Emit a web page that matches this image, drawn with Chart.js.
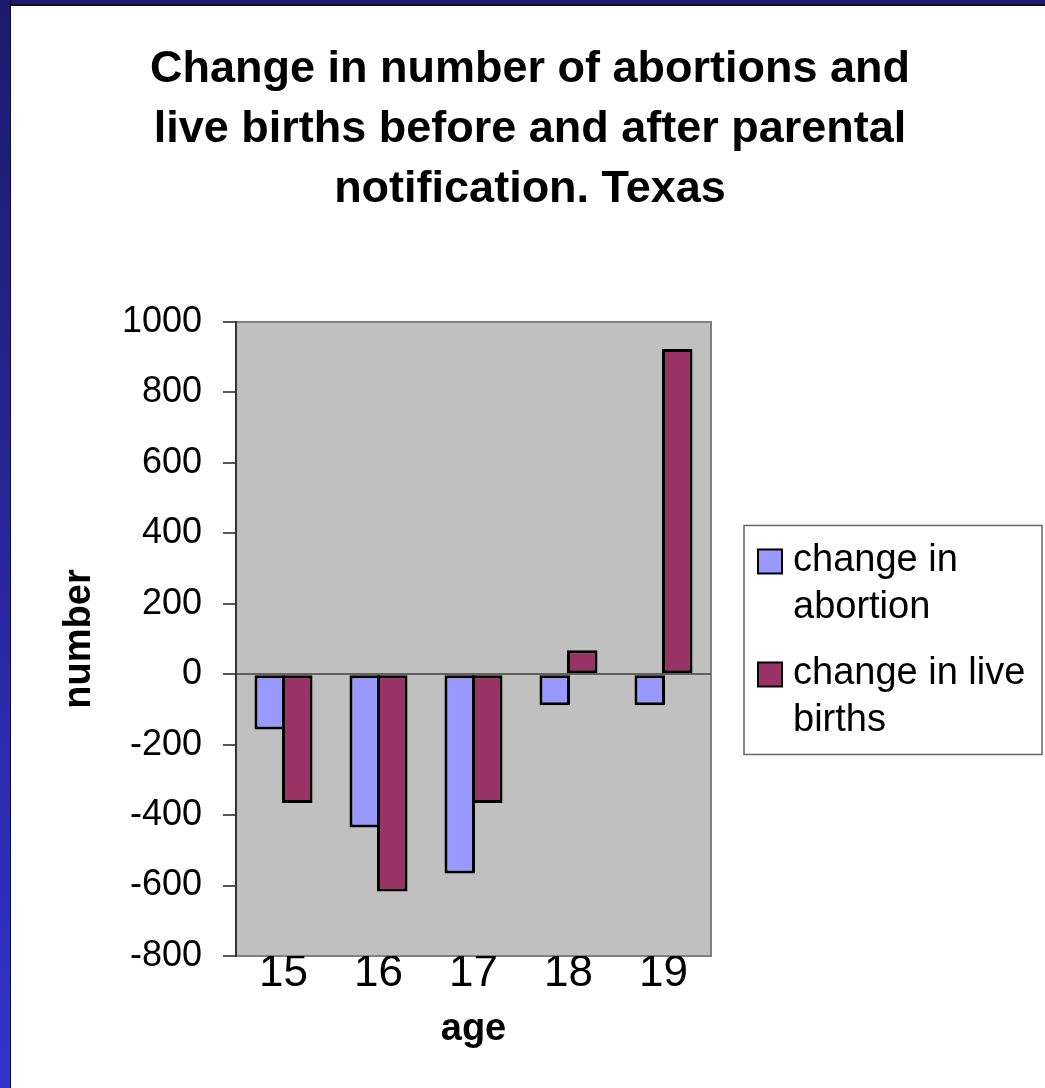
<!DOCTYPE html>
<html lang="en">
<head>
  <meta charset="UTF-8">
  <title>Change in abortions and live births, Texas</title>
  <script src="https://cdn.jsdelivr.net/npm/chart.js"></script>
  <style>
    html, body { margin: 0; padding: 0; background: #fff; }
    #wrap { position: relative; width: 1045px; height: 1088px; overflow: hidden; }
    #frameTop { position: absolute; left: 0; top: 0; width: 1045px; height: 4px;
      background: #1d1b6c; border-bottom: 2px solid #0b0b2a; z-index: 2; }
    #frameLeft { position: absolute; left: 0; top: 0; width: 10px; height: 1088px;
      background: linear-gradient(#1d1b6c, #3333cc); border-right: 1px solid #0d0d3a; z-index: 2; }
    canvas { position: absolute; left: 0; top: 0; }
  </style>
</head>
<body>

<div id="wrap">
  <div id="frameTop"></div>
  <div id="frameLeft"></div>
  <canvas id="changeChart" width="1045" height="1088"></canvas>
</div>

<script>
  const ages = ['15', '16', '17', '18', '19'];
  const abortionChange = [-157, -435, -566, -88, -88];
  const birthChange = [-366, -617, -366, 68, 923];
  const seriesNames = ['change in abortion', 'change in live births'];
  const titleLines = ['Change in number of abortions and', 'live births before and after parental', 'notification. Texas'];
  const yMin = -800, yMax = 1000, yStep = 200;

  const FONT = '"Liberation Sans", Arial, sans-serif';

  // grey plot area like the old spreadsheet charts
  const plotBackground = {
    id: 'plotBackground',
    beforeDraw(chart) {
      const { ctx, chartArea: a } = chart;
      ctx.save();
      ctx.fillStyle = '#c0c0c0';
      ctx.fillRect(a.left, a.top, a.width, a.height);
      ctx.strokeStyle = '#808080';
      ctx.lineWidth = 2;
      ctx.strokeRect(a.left, a.top, a.width, a.height);
      ctx.restore();
    }
  };

  function wrapText(ctx, text, maxWidth) {
    const words = text.split(' ');
    const lines = [];
    let line = '';
    words.forEach(w => {
      const test = line ? line + ' ' + w : w;
      if (line && ctx.measureText(test).width > maxWidth) {
        lines.push(line);
        line = w;
      } else {
        line = test;
      }
    });
    if (line) lines.push(line);
    return lines;
  }

  // legend on the right, with wrapped labels, taking its own layout space
  const legendBox = {
    position: 'right', weight: 0, fullSize: false, options: {},
    width: 0, height: 0, left: 0, top: 0, right: 0, bottom: 0,
    isHorizontal() { return false; },
    update(maxWidth, maxHeight) {
      this.width = 334;
      this.height = maxHeight;
    },
    draw() {
      const chart = this.chart;
      const ctx = chart.ctx;
      const a = chart.chartArea;
      const w = 298, h = 229;
      const left = a.right + 33;
      const top = (a.top + a.bottom) / 2 - h / 2 + 1;
      ctx.save();
      ctx.fillStyle = '#fff';
      ctx.fillRect(left, top, w, h);
      ctx.strokeStyle = '#666';
      ctx.lineWidth = 1.5;
      ctx.strokeRect(left, top, w, h);
      ctx.font = '38px ' + FONT;
      ctx.textBaseline = 'alphabetic';
      let y = top + 46;
      chart.data.datasets.forEach(ds => {
        const lines = wrapText(ctx, ds.label, 240);
        ctx.fillStyle = ds.backgroundColor;
        ctx.fillRect(left + 14, y - 22, 24, 24);
        ctx.strokeStyle = '#000';
        ctx.lineWidth = 2;
        ctx.strokeRect(left + 14, y - 22, 24, 24);
        ctx.fillStyle = '#000';
        lines.forEach((ln, i) => ctx.fillText(ln, left + 49, y + i * 47));
        y += lines.length * 47 + 19;
      });
      ctx.restore();
    }
  };

  const sideLegend = {
    id: 'sideLegend',
    beforeInit(chart) {
      legendBox.chart = chart;
      Chart.layouts.addBox(chart, legendBox);
    }
  };

  const ctx = document.getElementById('changeChart').getContext('2d');

  new Chart(ctx, {
    type: 'bar',
    data: {
      labels: ages,
      datasets: [
        {
          label: seriesNames[0],
          data: abortionChange,
          backgroundColor: '#9999ff',
          borderColor: '#000',
          borderWidth: 3,
          borderSkipped: false
        },
        {
          label: seriesNames[1],
          data: birthChange,
          backgroundColor: '#993366',
          borderColor: '#000',
          borderWidth: 3,
          borderSkipped: false
        }
      ]
    },
    options: {
      responsive: false,
      animation: false,
      // bars slightly wider than their slot so neighbours share one border
      categoryPercentage: 0.579,
      barPercentage: 1.11,
      layout: { padding: { left: 15, right: 0, top: 0, bottom: 0 } },
      plugins: {
        legend: { display: false },
        tooltip: { enabled: false },
        title: {
          display: true,
          text: titleLines,
          color: '#000',
          font: { family: FONT, size: 45, weight: 'bold', lineHeight: 1.333 },
          padding: { top: 40, bottom: 102 }
        }
      },
      scales: {
        x: {
          grid: { display: false, drawTicks: false },
          border: { display: false },
          ticks: { color: '#000', font: { family: FONT, size: 44, lineHeight: 1 }, padding: -4 },
          title: {
            display: true,
            text: 'age',
            color: '#000',
            font: { family: FONT, size: 38, weight: 'bold', lineHeight: 1.2 },
            padding: { top: 0, bottom: 36 }
          },
          afterFit(scale) { scale.height = 132; }
        },
        y: {
          min: yMin,
          max: yMax,
          ticks: {
            stepSize: yStep,
            color: '#000',
            font: { family: FONT, size: 36 },
            padding: 21,
            callback: v => String(v)
          },
          grid: {
            color: c => (c.tick && c.tick.value === 0) ? '#606060' : 'rgba(0,0,0,0)',
            lineWidth: 2,
            tickColor: '#222',
            tickWidth: 1.5,
            tickLength: 13
          },
          border: { color: '#333', width: 2 },
          title: {
            display: true,
            text: 'number',
            color: '#000',
            font: { family: FONT, size: 38, weight: 'bold', lineHeight: 1.2 },
            padding: { top: 42, bottom: 0 }
          },
          afterFit(scale) { scale.width = 221; }
        }
      }
    },
    plugins: [plotBackground, sideLegend]
  });
</script>

</body>
</html>
